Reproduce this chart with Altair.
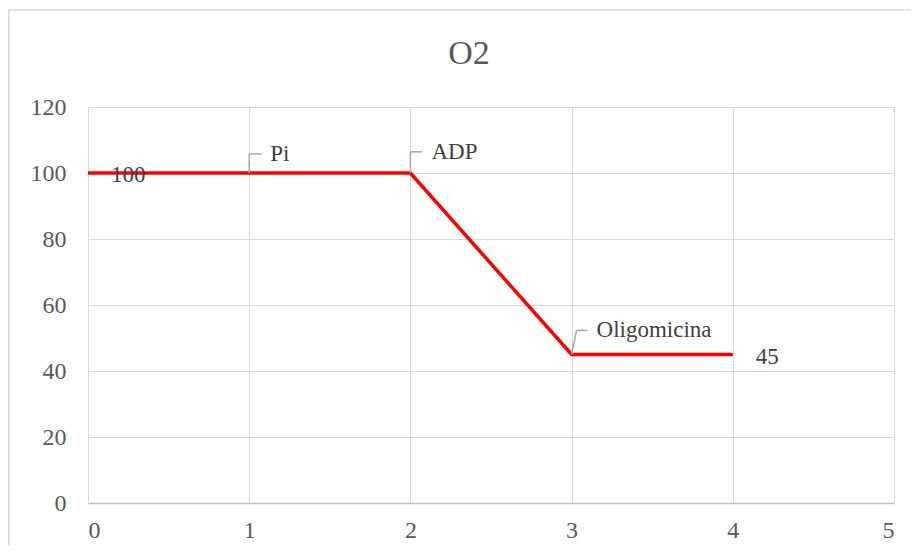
import altair as alt
import pandas as pd

# ---- data ----
x_vals = [0, 1, 2, 3, 4]
o2_vals = [100, 100, 100, 45, 45]
point_labels = ["100", "", "", "", "45"]
notes = ["", "Pi", "ADP", "Oligomicina", ""]
x_ticks = [0, 1, 2, 3, 4, 5]
y_ticks = [0, 20, 40, 60, 80, 100, 120]
chart_title = "O2"

df = pd.DataFrame({"x": x_vals, "y": o2_vals, "label": point_labels, "note": notes})

W, H = 806, 396
PL, PT, PR, PB = 80, 99, 17, 42
FONT = "Liberation Serif"
xs = alt.Scale(domain=[0, 5], nice=False, zero=False)
ys = alt.Scale(domain=[0, 120], nice=False)

x_axis = alt.Axis(values=x_ticks, grid=True, gridColor="#d9d9d9", gridWidth=1,
                  ticks=False, domain=True, domainColor="#bfbfbf", domainWidth=1.5,
                  labelFont=FONT, labelFontSize=24, labelColor="#595959",
                  labelPadding=15, title=None, format="d")
y_axis = alt.Axis(values=y_ticks, grid=True, gridColor="#d9d9d9", gridWidth=1,
                  ticks=False, domain=False, labelFont=FONT, labelFontSize=24,
                  labelColor="#595959", labelPadding=22, title=None, format="d")

base = alt.Chart(df)

line = base.mark_line(color="#ff0000", strokeWidth=3.5).encode(
    x=alt.X("x:Q", scale=xs, axis=x_axis),
    y=alt.Y("y:Q", scale=ys, axis=y_axis),
)

data_labels = base.transform_filter("datum.label != ''").mark_text(
    align="left", baseline="middle", dx=23, dy=2, fontSize=23, font=FONT, color="#404040"
).encode(x=alt.X("x:Q", scale=xs), y=alt.Y("y:Q", scale=ys), text="label:N")

leader = base.transform_filter("datum.note != ''").transform_calculate(
    ex="datum.x + (datum.note == 'Oligomicina' ? 0.031 : 0)",
    ey="datum.y + (datum.note == 'Oligomicina' ? 7.3 : (datum.note == 'ADP' ? 6.4 : 5.8))",
    hx="datum.x + (datum.note == 'Oligomicina' ? 0.099 : 0.075)",
)

leader_up = leader.mark_rule(color="#a6a6a6", strokeWidth=1.5).encode(
    x=alt.X("x:Q", scale=xs), y=alt.Y("y:Q", scale=ys),
    x2="ex:Q", y2="ey:Q",
)
leader_h = leader.mark_rule(color="#a6a6a6", strokeWidth=1.5).encode(
    x=alt.X("ex:Q", scale=xs), x2="hx:Q", y=alt.Y("ey:Q", scale=ys),
)
note_text = leader.mark_text(
    align="left", baseline="middle", dx=9, dy=0, fontSize=23, font=FONT, color="#404040"
).encode(x=alt.X("hx:Q", scale=xs), y=alt.Y("ey:Q", scale=ys), text="note:N")

frame_df = pd.DataFrame({"k": [0]})
frame_left = alt.Chart(frame_df).mark_rule(color="#d9d9d9", strokeWidth=1.5).encode(
    x=alt.value(-PL + 0.75), y=alt.value(-97), y2=alt.value(H + PB)
)
frame_top = alt.Chart(frame_df).mark_rule(color="#d9d9d9", strokeWidth=1.5).encode(
    x=alt.value(-PL), x2=alt.value(W + PR), y=alt.value(-97)
)
title_df = pd.DataFrame({"t": [chart_title]})
title = alt.Chart(title_df).mark_text(
    fontSize=34, font=FONT, color="#595959", align="center", baseline="alphabetic"
).encode(x=alt.value(381), y=alt.value(-43), text="t:N")

chart = alt.layer(
    frame_left, frame_top, line, leader_up, leader_h, note_text, data_labels, title
).properties(
    width=W, height=H,
    autosize=alt.AutoSizeParams(type="none"),
    padding={"left": PL, "top": PT, "right": PR, "bottom": PB},
).configure_view(stroke=None).configure(background="white")

chart.save("out.html", embed_options={"renderer": "svg", "actions": False})
